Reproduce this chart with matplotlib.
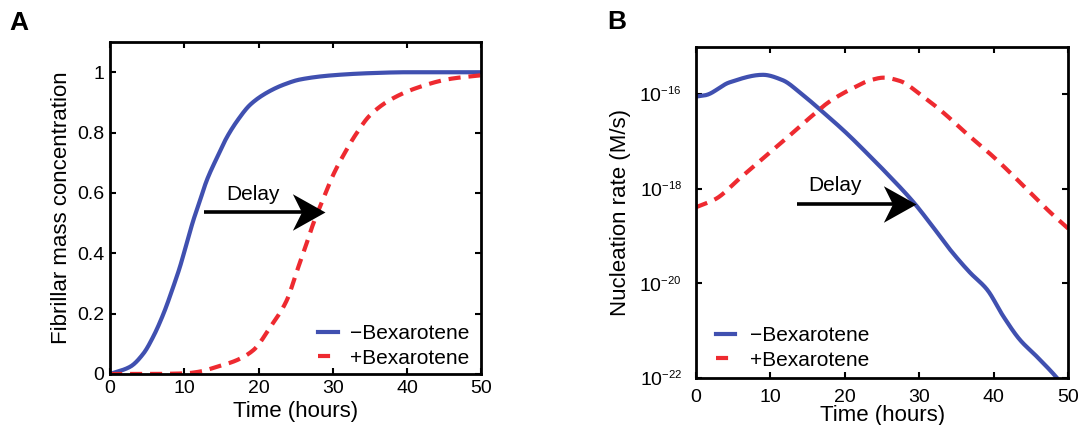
import numpy as np
import matplotlib
matplotlib.use("Agg")
import matplotlib.pyplot as plt
from matplotlib.ticker import FixedLocator, NullLocator
from matplotlib.path import Path

try:
    import matplotlib._mathtext as _mt
    _mt.SHRINK_FACTOR = 0.58
except Exception:
    pass

plt.rcParams['font.family'] = ['Liberation Sans', 'DejaVu Sans']
plt.rcParams['mathtext.fontset'] = 'custom'
plt.rcParams['mathtext.rm'] = 'Liberation Sans'
plt.rcParams['mathtext.it'] = 'Liberation Sans'
plt.rcParams['mathtext.default'] = 'regular'

# Panel A: fibrillar mass concentration
a_minus_t = [0, 2.7, 4.5, 5.8, 7.2, 8.5, 9.4, 10.3, 11.2, 12.1, 13.0, 14.4, 15.7, 17.1, 18.9, 21.1, 23.4, 25.6, 30, 35, 40, 50]
a_minus_y = [0, 0.024, 0.068, 0.123, 0.200, 0.288, 0.354, 0.431, 0.508, 0.574, 0.640, 0.717, 0.783, 0.838, 0.893, 0.932, 0.959, 0.976, 0.990, 0.997, 1.0, 1.0]
a_plus_t = [0, 5, 10, 12.1, 14.4, 17.0, 19.3, 21.6, 23.8, 25.2, 26.3, 27.4, 28.8, 30.1, 31.9, 33.0, 35.0, 37.7, 41.3, 45.8, 50]
a_plus_y = [0, 0, 0.002, 0.008, 0.024, 0.045, 0.079, 0.156, 0.244, 0.343, 0.42, 0.50, 0.585, 0.662, 0.745, 0.79, 0.857, 0.908, 0.948, 0.978, 0.99]

# Panel B: nucleation rate (log10 values)
b_minus_t = [0, 1.3, 4.5, 9.0, 11.6, 14.3, 17.0, 20.2, 23.3, 25.3, 29.2, 31.9, 34.1, 36.8, 39.1, 41.3, 43.5, 45.8, 48.5, 50]
b_minus_log = [-16.05, -16.02, -15.75, -15.59, -15.70, -16.01, -16.37, -16.82, -17.30, -17.62, -18.28, -18.82, -19.28, -19.77, -20.13, -20.70, -21.19, -21.55, -22.0, -22.3]
b_plus_t = [0, 2.7, 5.8, 9.0, 12.1, 15.2, 17.9, 21.1, 23.5, 25.2, 27.4, 30.1, 33.3, 36.4, 40, 44.4, 47.6, 50]
b_plus_log = [-18.39, -18.21, -17.79, -17.36, -16.94, -16.51, -16.16, -15.87, -15.70, -15.65, -15.72, -16.00, -16.40, -16.84, -17.33, -18.00, -18.50, -18.84]

labels = ['\u2212Bexarotene', '+Bexarotene']
blue = '#4050b0'
red = '#ee2a30'


def pchip(x, y, n=500):
    x = np.asarray(x, float)
    y = np.asarray(y, float)
    h = np.diff(x)
    d = np.diff(y) / h
    m = np.zeros_like(y)
    for k in range(1, len(x) - 1):
        if d[k - 1] * d[k] > 0:
            w1 = 2 * h[k] + h[k - 1]
            w2 = h[k] + 2 * h[k - 1]
            m[k] = (w1 + w2) / (w1 / d[k - 1] + w2 / d[k])
        else:
            m[k] = 0.0
    m[0] = d[0]
    m[-1] = d[-1]
    xx = np.linspace(x[0], x[-1], n)
    idx = np.clip(np.searchsorted(x, xx) - 1, 0, len(x) - 2)
    hk = h[idx]
    t = (xx - x[idx]) / hk
    h00 = 2 * t**3 - 3 * t**2 + 1
    h10 = t**3 - 2 * t**2 + t
    h01 = -2 * t**3 + 3 * t**2
    h11 = t**3 - t**2
    yy = h00 * y[idx] + h10 * hk * m[idx] + h01 * y[idx + 1] + h11 * hk * m[idx + 1]
    return xx, yy


stealth = Path([(0, 0), (-1, 0.56), (-0.72, 0), (-1, -0.56), (0, 0)],
               [Path.MOVETO, Path.LINETO, Path.LINETO, Path.LINETO, Path.CLOSEPOLY])


def delay_arrow(ax, x0, x1, y):
    ax.plot([x0, x1 - 1.5], [y, y], color='k', lw=2.6, solid_capstyle='butt', zorder=4)
    ax.plot([x1], [y], marker=stealth, markersize=47, color='k', markeredgewidth=0, zorder=5)


def style(ax):
    ax.tick_params(direction='in', top=True, right=True, length=4, width=1.5, labelsize=14, pad=4)
    for s in ax.spines.values():
        s.set_linewidth(2)


DASH = (0, (2.9, 1.9))
LW = 3.0

fig = plt.figure(figsize=(10.79, 4.25), dpi=100)
axA = fig.add_axes([0.102, 0.12, 0.344, 0.781])
axB = fig.add_axes([0.645, 0.1106, 0.345, 0.779])

t1, y1 = pchip(a_minus_t, a_minus_y)
t2, y2 = pchip(a_plus_t, a_plus_y)
axA.plot(t1, y1, color=blue, lw=LW, label=labels[0])
axA.plot(t2, y2, color=red, lw=LW, ls=DASH, label=labels[1])
axA.set_xlim(0, 50)
axA.set_ylim(0, 1.1)
axA.set_xticks([0, 10, 20, 30, 40, 50])
axA.set_yticks([0, 0.2, 0.4, 0.6, 0.8, 1.0])
axA.set_yticklabels(['0', '0.2', '0.4', '0.6', '0.8', '1'])
axA.set_xlabel('Time (hours)', fontsize=16, labelpad=3)
axA.set_ylabel('Fibrillar mass concentration', fontsize=16, labelpad=4)
style(axA)
delay_arrow(axA, 12.7, 29.0, 0.538)
axA.text(19.3, 0.596, 'Delay', fontsize=15, ha='center', va='center')
axA.legend(loc='lower right', bbox_to_anchor=(0.99, -0.006), frameon=False, fontsize=15,
           handlelength=1.0, borderaxespad=0.0, labelspacing=0.25, handletextpad=0.55)

t3, y3 = pchip(b_minus_t, b_minus_log)
t4, y4 = pchip(b_plus_t, b_plus_log)
axB.plot(t3, 10 ** y3, color=blue, lw=LW, label=labels[0])
axB.plot(t4, 10 ** y4, color=red, lw=LW, ls=DASH, label=labels[1])
axB.set_yscale('log')
axB.set_xlim(0, 50)
axB.set_ylim(1e-22, 1e-15)
axB.set_xticks([0, 10, 20, 30, 40, 50])
axB.yaxis.set_major_locator(FixedLocator([1e-22, 1e-20, 1e-18, 1e-16]))
axB.yaxis.set_minor_locator(NullLocator())
axB.set_yticklabels([r'$10^{-22}$', r'$10^{-20}$', r'$10^{-18}$', r'$10^{-16}$'])
style(axB)
axB.tick_params(axis='x', pad=8)
axB.tick_params(axis='y', pad=10)
axB.set_xlabel('Time (hours)', fontsize=16, labelpad=-1)
axB.set_ylabel('Nucleation rate (M/s)', fontsize=16, labelpad=6)
delay_arrow(axB, 13.6, 29.5, 10 ** -18.32)
axB.text(18.7, 10 ** -17.92, 'Delay', fontsize=15, ha='center', va='center')
axB.legend(loc='lower left', bbox_to_anchor=(0.031, 0.0), frameon=False, fontsize=15,
           handlelength=0.9, borderaxespad=0.0, labelspacing=0.25, handletextpad=0.75)

fig.text(0.009, 0.946, 'A', fontsize=19, fontweight='bold', va='center')
fig.text(0.563, 0.948, 'B', fontsize=19, fontweight='bold', va='center')

fig.savefig('out.png', dpi=100)
